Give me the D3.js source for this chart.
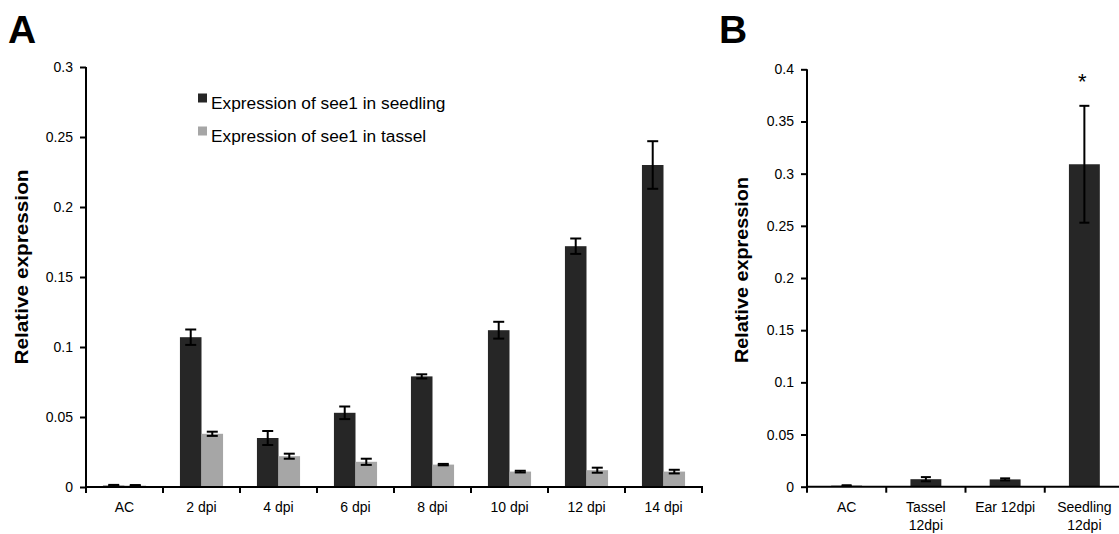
<!DOCTYPE html>
<html><head><meta charset="utf-8">
<script src="https://cdn.jsdelivr.net/npm/d3@7"></script>
<style>
html,body{margin:0;padding:0;background:#fff;}
svg{display:block;font-family:"Liberation Sans",Arial,sans-serif;}
</style></head>
<body>
<svg id="chart" width="1119" height="534"></svg>
<script>
// ---- Panel A data ----
const categoriesA = ["AC","2 dpi","4 dpi","6 dpi","8 dpi","10 dpi","12 dpi","14 dpi"];
const seriesA = ["Expression of see1 in seedling","Expression of see1 in tassel"];
const seedlingA = [0.001,0.107,0.035,0.053,0.079,0.112,0.172,0.230];
const seedlingErrA = [0.0005,0.0055,0.005,0.0045,0.0015,0.006,0.0055,0.017];
const tasselA = [0.001,0.038,0.022,0.018,0.016,0.011,0.012,0.011];
const tasselErrA = [0.0004,0.0015,0.0018,0.0022,0.0005,0.0006,0.0018,0.0013];
const yTicksA = [0,0.05,0.1,0.15,0.2,0.25,0.3];
// ---- Panel B data ----
const categoriesB = ["AC","Tassel 12dpi","Ear 12dpi","Seedling 12dpi"];
const labelLinesB = [["AC"],["Tassel","12dpi"],["Ear 12dpi"],["Seedling","12dpi"]];
const valuesB = [0.001,0.0072,0.007,0.309];
const errB = [0.0004,0.002,0.001,0.056];
const significantB = ["","","","*"];
const yTicksB = [0,0.05,0.1,0.15,0.2,0.25,0.3,0.35,0.4];

const colors = ["#262626","#a6a6a6"];
const svg = d3.select("#chart");
const fmt = d => String(+d.toFixed(2));

function errorBar(g, cx, y, v, e, capW){
  g.append("line").attr("x1",cx).attr("x2",cx).attr("y1",y(v+e)).attr("y2",y(v-e))
    .attr("stroke","#000").attr("stroke-width",2);
  [v+e, v-e].forEach(t=>{
    g.append("line").attr("x1",cx-capW/2).attr("x2",cx+capW/2).attr("y1",y(t)).attr("y2",y(t))
      .attr("stroke","#000").attr("stroke-width",2);
  });
}

// ================= Panel A =================
{
  const y = d3.scaleLinear().domain([0,0.3]).range([487,67]);
  const x0 = d3.scaleBand().domain(categoriesA).range([86,702]).paddingInner(0.44).paddingOuter(0.22);
  const x1 = d3.scaleBand().domain(seriesA).range([0,x0.bandwidth()]);
  const g = svg.append("g");
  const vals = [seedlingA, tasselA], errs = [seedlingErrA, tasselErrA];
  seriesA.forEach((s,si)=>{
    g.append("g").selectAll("rect").data(categoriesA).join("rect")
      .attr("x",c=>x0(c)+x1(s)).attr("width",x1.bandwidth())
      .attr("y",(c,i)=>y(vals[si][i])).attr("height",(c,i)=>y(0)-y(vals[si][i]))
      .attr("fill",colors[si]);
  });
  seriesA.forEach((s,si)=>{
    categoriesA.forEach((c,i)=>{
      errorBar(g, x0(c)+x1(s)+x1.bandwidth()/2, y, vals[si][i], errs[si][i], 11);
    });
  });
  // y axis
  const ya = g.append("g").attr("transform","translate(86,0)")
    .call(d3.axisLeft(y).tickValues(yTicksA).tickFormat(fmt).tickSize(6).tickPadding(7));
  ya.selectAll("path,line").attr("stroke","#000").attr("stroke-width",2);
  ya.select("path").attr("d","M0,"+y(0.3)+"V"+y(0));
  ya.selectAll("text").attr("font-size",14).attr("fill","#000").attr("font-family","Liberation Sans, Arial, sans-serif");
  // x axis
  const xa = g.append("g").attr("transform","translate(0,487)")
    .call(d3.axisBottom(x0).tickSize(0).tickPadding(15));
  xa.select("path").remove();
  xa.selectAll("text").attr("font-size",14).attr("fill","#000").attr("font-family","Liberation Sans, Arial, sans-serif");
  const bounds = categoriesA.map(c=>x0(c)-x0.step()*x0.paddingInner()/2).concat([x0.range()[1]]);
  g.append("line").attr("x1",x0.range()[0]-1).attr("x2",x0.range()[1]+1).attr("y1",487).attr("y2",487)
    .attr("stroke","#000").attr("stroke-width",2);
  g.selectAll(".bt").data(bounds).join("line").attr("x1",d=>d).attr("x2",d=>d)
    .attr("y1",487).attr("y2",493).attr("stroke","#000").attr("stroke-width",2);
  // y label
  g.append("text").attr("transform","translate(28,267) rotate(-90)").attr("text-anchor","middle")
    .attr("font-size",18).attr("font-weight","bold").attr("textLength",195).attr("lengthAdjust","spacingAndGlyphs")
    .text("Relative expression");
  // legend
  seriesA.forEach((s,si)=>{
    const ly = 93.5 + si*33;
    g.append("rect").attr("x",198).attr("y",ly).attr("width",9).attr("height",9).attr("fill",colors[si]);
    g.append("text").attr("x",211).attr("y",ly+15).attr("font-size",17.3).attr("fill","#000").text(s);
  });
  // panel letter
  svg.append("text").attr("x",8).attr("y",42.5).attr("font-size",39).attr("font-weight","bold").text("A");
}

// ================= Panel B =================
{
  const y = d3.scaleLinear().domain([0,0.4]).range([486.7,69.3]);
  const x = d3.scaleBand().domain(categoriesB).range([807,1124]).paddingInner(0.61).paddingOuter(0.305);
  const g = svg.append("g");
  g.selectAll("rect").data(categoriesB).join("rect")
    .attr("x",c=>x(c)).attr("width",x.bandwidth())
    .attr("y",(c,i)=>y(valuesB[i])).attr("height",(c,i)=>y(0)-y(valuesB[i]))
    .attr("fill",colors[0]);
  categoriesB.forEach((c,i)=>errorBar(g, x(c)+x.bandwidth()/2, y, valuesB[i], errB[i], 10));
  g.selectAll(".sig").data(categoriesB).join("text")
    .attr("x",c=>x(c)+x.bandwidth()/2-2).attr("y",(c,i)=>y(valuesB[i]+errB[i])-17)
    .attr("text-anchor","middle").attr("font-size",22).text((c,i)=>significantB[i]);
  const ya = g.append("g").attr("transform","translate(807,0)")
    .call(d3.axisLeft(y).tickValues(yTicksB).tickFormat(fmt).tickSize(6).tickPadding(7));
  ya.selectAll("path,line").attr("stroke","#000").attr("stroke-width",2);
  ya.select("path").attr("d","M0,"+y(0.4)+"V"+y(0));
  ya.selectAll("text").attr("font-size",14).attr("fill","#000").attr("font-family","Liberation Sans, Arial, sans-serif");
  // x axis
  g.append("line").attr("x1",806).attr("x2",1124).attr("y1",486.7).attr("y2",486.7)
    .attr("stroke","#000").attr("stroke-width",2);
  const bounds = categoriesB.map(c=>x(c)-x.step()*x.paddingInner()/2);
  g.selectAll(".bt").data(bounds).join("line").attr("x1",d=>d).attr("x2",d=>d)
    .attr("y1",486.7).attr("y2",492.7).attr("stroke","#000").attr("stroke-width",2);
  categoriesB.forEach((c,i)=>{
    const t = g.append("text").attr("text-anchor","middle").attr("font-size",14).attr("fill","#000");
    labelLinesB[i].forEach((ln,li)=>{
      t.append("tspan").attr("x",x(c)+x.bandwidth()/2).attr("y",512+li*18).text(ln);
    });
  });
  g.append("text").attr("transform","translate(748,270) rotate(-90)").attr("text-anchor","middle")
    .attr("font-size",18).attr("font-weight","bold").attr("textLength",186).attr("lengthAdjust","spacingAndGlyphs")
    .text("Relative expression");
  svg.append("text").attr("x",719).attr("y",42.5).attr("font-size",39).attr("font-weight","bold").text("B");
}
</script>
</body></html>
